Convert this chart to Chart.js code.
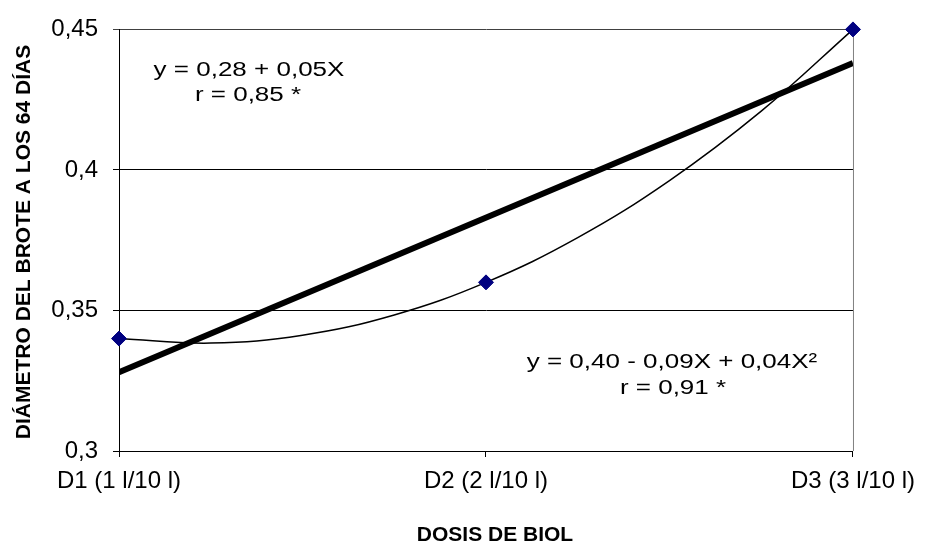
<!DOCTYPE html>
<html lang="es">
<head>
  <meta charset="UTF-8">
  <title>Diámetro del brote a los 64 días</title>
  <script src="https://cdn.jsdelivr.net/npm/chart.js@4.4.1"></script>
  <style>
    html,body{margin:0;padding:0;background:#fff;}
    .wrap{position:relative;width:925px;height:546px;}
  </style>
</head>
<body>
<div class="wrap"><canvas id="chart" width="925" height="546"></canvas></div>

<script>
// dosis (eje X) y diámetro medido
const doses = ['D1 (1 l/10 l)', 'D2 (2 l/10 l)', 'D3 (3 l/10 l)'];
const doseX = [1, 2, 3];
const diameter = [0.34, 0.36, 0.45];

// tendencia lineal y cuadrática
const linearX = [1, 3];
const linearY = [0.328, 0.438];
const curveX = [1, 1.25, 1.5, 1.75, 2, 2.25, 2.5, 2.75, 3];
const curveY = [0.34, 0.3384, 0.3412, 0.3484, 0.36, 0.3759, 0.3962, 0.4209, 0.45];

const yTicks = [0.3, 0.35, 0.4, 0.45];
const yTickLabels = ['0,3', '0,35', '0,4', '0,45'];

const notes = [
  {lines: ['y = 0,28 + 0,05X', 'r = 0,85 *'], x: [249, 248], y: [70, 95]},
  {lines: ['y = 0,40 - 0,09X + 0,04X\u00B2', 'r = 0,91 *'], x: [672, 673], y: [362, 388]}
];

const FONT = '"Liberation Sans", Arial, sans-serif';
const pts = (xs, ys) => xs.map((x, i) => ({x, y: ys[i]}));

// textos libres: ecuaciones, títulos de ejes y borde derecho
const extras = {
  id: 'extras',
  beforeDatasetsDraw(chart) {
    const {ctx, chartArea: a} = chart;
    ctx.save();
    ctx.strokeStyle = '#808080'; ctx.lineWidth = 1;
    ctx.beginPath(); ctx.moveTo(a.right + 0.5, a.top); ctx.lineTo(a.right + 0.5, a.bottom); ctx.stroke();
    ctx.restore();
  },
  afterDraw(chart) {
    const {ctx} = chart;
    ctx.save();
    ctx.fillStyle = '#000';
    ctx.textAlign = 'center'; ctx.textBaseline = 'middle';
    ctx.font = '20px ' + FONT;
    notes.forEach(n => n.lines.forEach((t, i) => {
      ctx.save();
      ctx.translate(n.x[i], n.y[i]);
      ctx.scale(1.3, 1);
      ctx.fillText(t, 0, 0);
      ctx.restore();
    }));

    ctx.font = 'bold 21px ' + FONT;
    ctx.fillText('DOSIS DE BIOL', 495, 535);
    ctx.translate(24, 242);
    ctx.rotate(-Math.PI / 2);
    ctx.fillText('DIÁMETRO DEL BROTE A LOS 64 DÍAS', 0, 0);
    ctx.restore();
  }
};

new Chart(document.getElementById('chart'), {
  type: 'line',
  data: {
    datasets: [
      {data: pts(linearX, linearY), borderColor: '#000', borderWidth: 6, pointRadius: 0, tension: 0, order: 2},
      {data: pts(curveX, curveY), borderColor: '#000', borderWidth: 1.5, pointRadius: 0, tension: 0.4, order: 1},
      {data: pts(doseX, diameter), showLine: false, pointStyle: 'rectRot', pointRadius: 7.5, clip: false,
       pointBackgroundColor: '#000080', pointBorderColor: '#000080', order: 0}
    ]
  },
  options: {
    responsive: false,
    animation: false,
    layout: {autoPadding: false, padding: {top: 22, right: 68, left: 0, bottom: 0}},
    plugins: {legend: {display: false}, tooltip: {enabled: false}},
    scales: {
      x: {
        type: 'linear', min: 1, max: 3,
        afterBuildTicks: s => { s.ticks = doseX.map(v => ({value: v})); },
        afterFit: s => { s.height = 95; },
        ticks: {callback: (v, i) => doses[i], color: '#000', padding: 10, maxRotation: 0,
                font: {family: FONT, size: 24}},
        grid: {drawOnChartArea: false, color: '#000', tickLength: 6},
        border: {color: '#000', width: 1}
      },
      y: {
        min: 0.3, max: 0.45,
        afterBuildTicks: s => { s.ticks = yTicks.map(v => ({value: v})); },
        afterFit: s => { s.width = 119; },
        ticks: {callback: (v, i) => yTickLabels[i], color: '#000', padding: 15,
                font: {family: FONT, size: 24}},
        grid: {color: c => c.index === 3 ? '#404040' : '#000', lineWidth: 1, tickLength: 6},
        border: {color: '#000', width: 1}
      }
    }
  },
  plugins: [extras]
});
</script>
</body>
</html>
